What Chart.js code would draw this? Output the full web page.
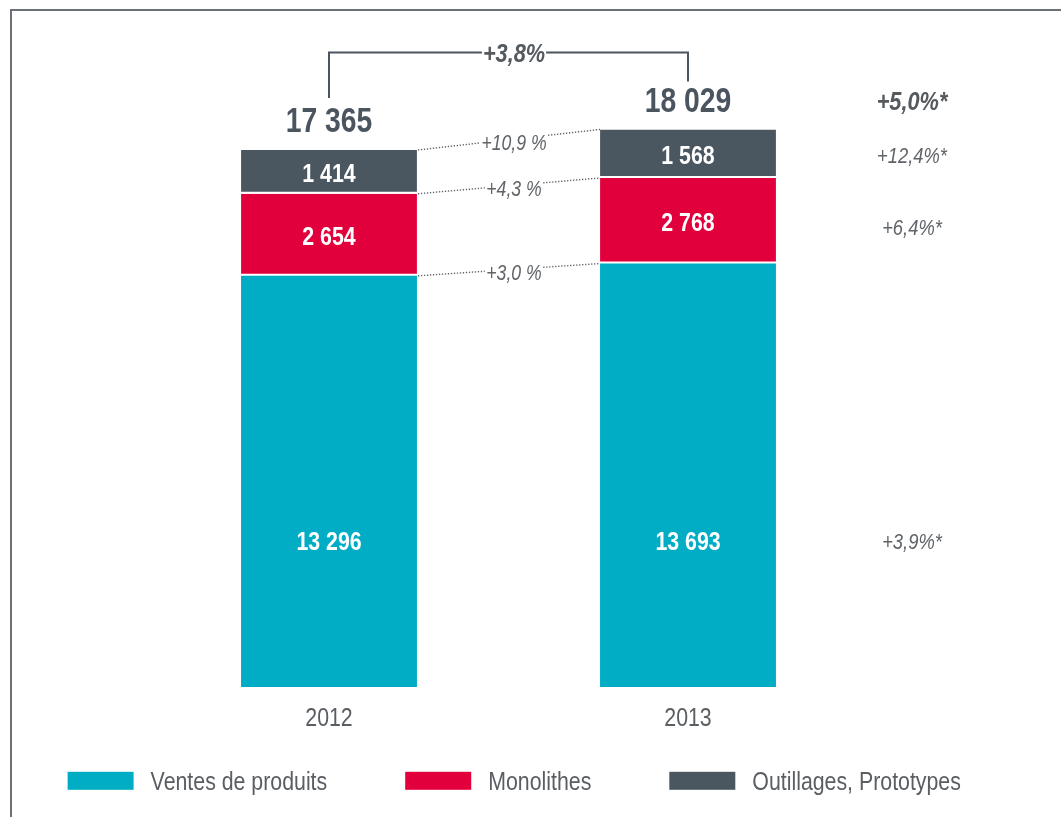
<!DOCTYPE html>
<html>
<head>
<meta charset="utf-8">
<script src="https://cdn.jsdelivr.net/npm/chart.js@4.4.1/dist/chart.umd.min.js"></script>
<style>
  html, body { margin: 0; padding: 0; background: #fff; }
  #wrap { position: relative; width: 1061px; height: 817px; overflow: hidden; }
  #frame { position: absolute; left: 10px; top: 9px; width: 1060px; height: 820px;
           border-top: 2px solid #6b7176; border-left: 2px solid #6b7176; }
  canvas { position: absolute; left: 0; top: 0; }
</style>
</head>
<body>
<div id="wrap">
  <div id="frame"></div>
  <canvas id="c" width="1061" height="817"></canvas>
</div>
<script>
// ---- data ----
const categories = ['2012', '2013'];
const seriesNames = ['Ventes de produits', 'Monolithes', 'Outillages, Prototypes'];
const ventes = [13296, 13693];
const monolithes = [2654, 2768];
const outillages = [1414, 1568];
const totals = [17365, 18029];
const totalGrowth = '+3,8%';
const segmentGrowth = ['+3,0 %', '+4,3 %', '+10,9 %'];   // ventes, monolithes, outillages
const rightTotalLabel = '+5,0%*';
const rightSegmentLabels = ['+3,9%*', '+6,4%*', '+12,4%*'];

// ---- styles ----
const FAMILY = '"Liberation Sans", Arial, sans-serif';
const SX = 0.82;                 // horizontal condensing to mimic a narrow face
const colors = ['#00adc5', '#e2003c', '#4b5760'];
const TEXT_DARK = '#4b5560';
const TEXT_MID = '#555a5f';
const TEXT_GREY = '#606468';
const TEAL_LABEL_VALUE = 4720;

const fmt = n => String(n).replace(/\B(?=(\d{3})+(?!\d))/g, ' ');

function textWidth(ctx, text, size, weight = 'normal', style = 'normal') {
  ctx.save();
  ctx.font = `${style} ${weight} ${size}px ${FAMILY}`;
  const w = ctx.measureText(text).width * SX;
  ctx.restore();
  return w;
}
// draws text whose cap/digit centre sits at cy
function drawText(ctx, text, x, cy, size, o = {}) {
  ctx.save();
  ctx.font = `${o.style || 'normal'} ${o.weight || 'normal'} ${size}px ${FAMILY}`;
  ctx.fillStyle = o.color || '#000';
  ctx.textAlign = o.align || 'center';
  ctx.textBaseline = 'alphabetic';
  ctx.translate(x, cy + 0.358 * size);
  ctx.scale(SX, 1);
  ctx.fillText(text, 0, 0);
  ctx.restore();
}

const annot = {
  id: 'annot',
  afterDatasetsDraw(chart) {
    const ctx = chart.ctx;
    const ys = chart.scales.y;
    const xs = chart.scales.x;
    const area = chart.chartArea;
    const metas = [0, 1, 2].map(i => chart.getDatasetMeta(i));
    const data = [ventes, monolithes, outillages];

    const segY = (di, bar) => di === 0 ? ys.getPixelForValue(TEAL_LABEL_VALUE) : (bar.y + bar.base) / 2 + 1;

    // values inside bars
    metas.forEach((m, di) => {
      m.data.forEach((bar, i) => {
        drawText(ctx, fmt(data[di][i]), bar.x, segY(di, bar), 26, { weight: 'bold', color: '#ffffff' });
      });
    });

    // totals above bars
    const tops = metas[2].data;
    tops.forEach((bar, i) => drawText(ctx, fmt(totals[i]), bar.x, bar.y - 30, 34.5, { weight: 'bold', color: TEXT_DARK }));

    // bracket with total growth
    const x0 = tops[0].x, x1 = tops[1].x;
    const yb = Math.min(tops[0].y, tops[1].y) - 77;
    const xm = (x0 + x1) / 2 + 5.5;
    const tw = textWidth(ctx, totalGrowth, 26.5, 'bold', 'italic') / 2 + 1;
    ctx.save();
    ctx.strokeStyle = TEXT_DARK;
    ctx.lineWidth = 2;
    ctx.beginPath();
    ctx.moveTo(x0, tops[0].y - 52); ctx.lineTo(x0, yb); ctx.lineTo(xm - tw, yb);
    ctx.moveTo(xm + tw, yb); ctx.lineTo(x1, yb); ctx.lineTo(x1, tops[1].y - 48);
    ctx.stroke();
    ctx.restore();
    drawText(ctx, totalGrowth, xm, yb, 26.5, { weight: 'bold', style: 'italic', color: TEXT_MID });

    // dotted connectors with segment growth
    metas.forEach((m, di) => {
      const b0 = m.data[0], b1 = m.data[1];
      const p0 = { x: b0.x + b0.width / 2, y: b0.y };
      const p1 = { x: b1.x - b1.width / 2, y: b1.y };
      const yAt = x => p0.y + (p1.y - p0.y) * (x - p0.x) / (p1.x - p0.x);
      const lx = (p0.x + p1.x) / 2 + 5.5;
      const hw = textWidth(ctx, segmentGrowth[di], 21.5, 'normal', 'italic') / 2 + 1.5;
      ctx.save();
      ctx.strokeStyle = '#5f6367';
      ctx.lineWidth = 1.4;
      ctx.setLineDash([1.3, 1.7]);
      ctx.beginPath();
      ctx.moveTo(p0.x + 1, p0.y); ctx.lineTo(lx - hw, yAt(lx - hw));
      ctx.moveTo(lx + hw, yAt(lx + hw)); ctx.lineTo(p1.x, p1.y);
      ctx.stroke();
      ctx.restore();
      drawText(ctx, segmentGrowth[di], lx, yAt(lx) + 3, 21.5, { style: 'italic', color: TEXT_GREY });
    });

    // right-hand growth column
    const rx = area.right + 44.5;
    drawText(ctx, rightTotalLabel, rx, tops[1].y - 28.5, 26.5, { weight: 'bold', style: 'italic', color: TEXT_MID });
    metas.forEach((m, di) => {
      const bar = m.data[1];
      drawText(ctx, rightSegmentLabels[di], rx, segY(di, bar) + (di === 1 ? 5 : 0), 22.4, { style: 'italic', color: TEXT_GREY });
    });

    // category labels
    categories.forEach((c, i) => {
      drawText(ctx, c, xs.getPixelForValue(i), area.bottom + 29.5, 26, { color: '#5a5e62' });
    });

    // legend
    let lx = 67.6;
    const ly = 780.8;
    chart.data.datasets.forEach(ds => {
      ctx.save();
      ctx.fillStyle = ds.backgroundColor;
      ctx.fillRect(lx, ly - 9, 66, 18);
      ctx.restore();
      const tx = lx + 66 + 17;
      drawText(ctx, ds.label, tx, ly, 26, { align: 'left', color: '#5a5e62' });
      lx = tx + textWidth(ctx, ds.label, 26) + 78;
    });
  }
};

const datasets = [ventes, monolithes, outillages].map((d, i) => ({
  label: seriesNames[i],
  data: d,
  backgroundColor: colors[i],
  borderColor: '#ffffff',
  borderWidth: { top: 0, left: 0, right: 0, bottom: i === 0 ? 0 : 2 },
  borderSkipped: false,
  categoryPercentage: 0.7,
  barPercentage: 0.7
}));

new Chart(document.getElementById('c'), {
  type: 'bar',
  data: { labels: categories, datasets },
  options: {
    responsive: false,
    devicePixelRatio: 1,
    animation: false,
    layout: { padding: { top: 68.5, left: 149.5, right: 193.5, bottom: 130 } },
    plugins: {
      tooltip: { enabled: false },
      legend: { display: false }
    },
    scales: {
      x: { stacked: true, display: false },
      y: { stacked: true, display: false, min: 0, max: 20000 }
    }
  },
  plugins: [annot]
});
</script>
</body>
</html>
